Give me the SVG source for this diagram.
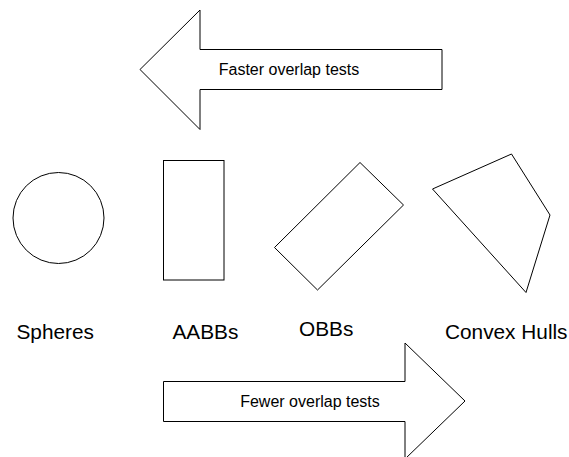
<svg xmlns="http://www.w3.org/2000/svg" width="569" height="457" viewBox="0 0 569 457">
  <style>
    .shape { fill: #ffffff; stroke: #000000; stroke-width: 1; stroke-linejoin: miter; }
    .label { font-family: "Liberation Sans", Arial, Helvetica, sans-serif; font-size: 20.8px; fill: #000000; }
    .arrow-text { font-family: "Liberation Sans", Arial, Helvetica, sans-serif; font-size: 16px; fill: #000000; text-anchor: middle; }
  </style>
  <rect width="569" height="457" fill="#ffffff"/>

  <!-- Block arrows -->
  <g id="arrows">
    <g id="faster-arrow">
      <polygon class="shape" points="140,69.5 200,10 200,49.5 442,49.5 442,89.5 200,89.5 200,129.5"/>
      <text class="arrow-text" x="289" y="75">Faster overlap tests</text>
    </g>
    <g id="fewer-arrow">
      <polygon class="shape" points="163.5,381.5 405,381.5 405,343 465,401 405,459 405,421.5 163.5,421.5"/>
      <text class="arrow-text" x="310" y="406.5">Fewer overlap tests</text>
    </g>
  </g>

  <!-- Bounding volumes -->
  <g id="spheres">
    <circle class="shape" cx="58.5" cy="218" r="45.5"/>
    <text class="label" x="16.5" y="339">Spheres</text>
  </g>
  <g id="aabbs">
    <rect class="shape" x="163.5" y="160.5" width="60.5" height="119.5"/>
    <text class="label" x="172.5" y="339">AABBs</text>
  </g>
  <g id="obbs">
    <polygon class="shape" points="360,162.5 403.5,205 317.5,290 274.5,247.5"/>
    <text class="label" x="299" y="335.5">OBBs</text>
  </g>
  <g id="convex-hulls">
    <polygon class="shape" points="432.5,189 511.5,154 550,215 526,292.5"/>
    <text class="label" x="445" y="339">Convex Hulls</text>
  </g>
</svg>
